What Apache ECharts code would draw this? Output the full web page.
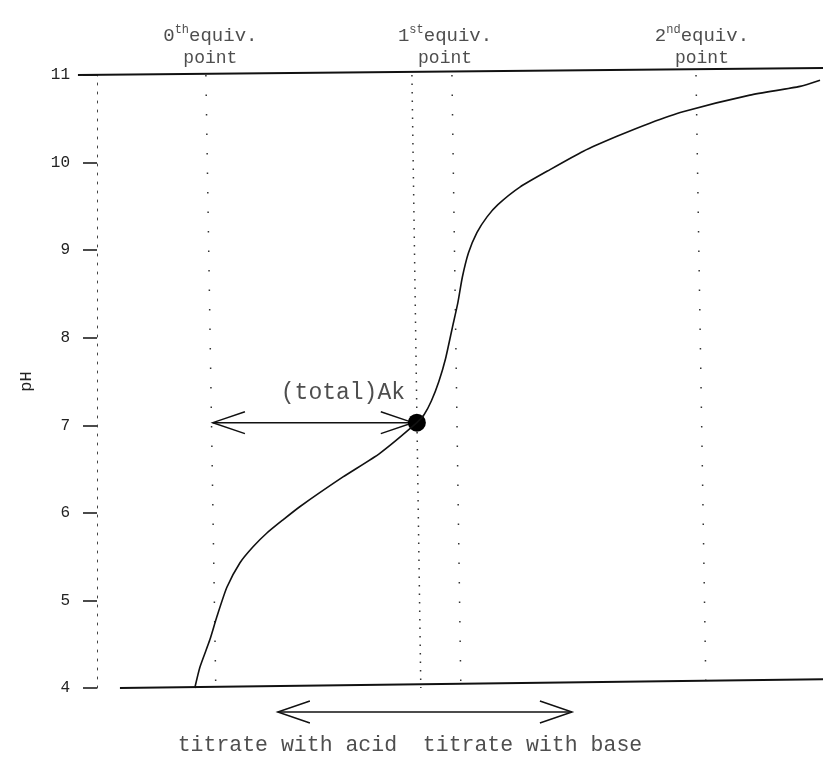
<!DOCTYPE html>
<html>
<head>
<meta charset="utf-8">
<script src="https://cdn.jsdelivr.net/npm/echarts@6/dist/echarts.min.js"></script>
<style>html,body{margin:0;padding:0;background:#fff}#c{width:823px;height:759px}</style>
</head>
<body>
<div id="c"></div>
<script>
// ---- data (axis units: x = equivalents of titrant, y = pH) ----
const yTicks = [4, 5, 6, 7, 8, 9, 10, 11];
const curveX  = [-0.053, -0.032, 0.008, 0.036, 0.077, 0.130, 0.182, 0.239, 0.304, 0.372, 0.547, 0.696, 0.846, 0.875, 0.905, 0.935, 0.962, 0.990, 1.012, 1.030, 1.055, 1.089, 1.130, 1.174, 1.263, 1.385, 1.520, 1.656, 1.789, 1.923, 2.194, 2.397, 2.478];
const curvePH = [4.00, 4.24, 4.55, 4.81, 5.15, 5.43, 5.61, 5.77, 5.92, 6.07, 6.41, 6.68, 7.03, 7.12, 7.28, 7.50, 7.76, 8.12, 8.40, 8.69, 8.97, 9.20, 9.38, 9.52, 9.72, 9.92, 10.13, 10.30, 10.45, 10.58, 10.77, 10.87, 10.94];
const equivX     = [0, 1, 2];
const equivOrd   = ['0', '1', '2'];
const equivSup   = ['th', 'st', 'nd'];
const equivLabelX = [0.01, 0.96, 2.0];
const guideTopX  = [-0.008, 0.988, 1.976];
const guideBotX  = [0.032, 1.024, 2.016];
const denseGuideX = [0.826, 0.862];
const topLineX = [-0.526, 2.49], topLinePH = [11.0, 11.08];
const botLineX = [-0.356, 2.49], botLinePH = [4.0, 4.10];
const akPoint = [0.846, 7.03];
const akText = '(total)Ak';
const akLabelAnchor = [0.798, 7.37];
const akArrowX = [0.02, 0.83], akArrowPH = 7.03;
const bottomArrowX = [0.283, 1.474], bottomArrowPH = 3.726;
const bottomText = 'titrate with acid  titrate with base';
const bottomTextAnchor = [0.818, 3.349];

// ---- style ----
const MONO = '"Liberation Mono", "DejaVu Sans Mono", monospace';
const INK = '#111';
const headDx = 0.13, headDy = 0.125;

function arrowPolylines(x1, x2, y) {
  return [
    { coords: [[x1, y], [x2, y]] },
    { coords: [[x1 + headDx, y + headDy], [x1, y], [x1 + headDx, y - headDy]] },
    { coords: [[x2 - headDx, y + headDy], [x2, y], [x2 - headDx, y - headDy]] }
  ];
}

const chart = echarts.init(document.getElementById('c'), null, { renderer: 'canvas' });
const option = {
  animation: false,
  backgroundColor: '#fff',
  grid: { left: 72, right: 0, top: 75, bottom: 71 },
  xAxis: { type: 'value', min: -0.55, max: 2.49, show: false },
  yAxis: {
    type: 'value', min: yTicks[0], max: yTicks[yTicks.length - 1], interval: 1,
    offset: -25,
    name: 'pH', nameLocation: 'middle', nameRotate: 90, nameGap: 62,
    nameTextStyle: { fontFamily: MONO, fontSize: 17, color: '#222' },
    axisLine: { show: true, onZero: false, lineStyle: { color: '#444', width: 1, type: [2, 7] } },
    axisTick: { show: true, inside: false, length: 14, lineStyle: { color: INK, width: 1.5 } },
    axisLabel: { margin: 27, fontFamily: MONO, fontSize: 16, color: '#222' },
    splitLine: { show: false }
  },
  series: [
    { // sparse dotted guides at equivalence points
      type: 'lines', coordinateSystem: 'cartesian2d', silent: true, clip: false,
      lineStyle: { color: '#333', width: 1.5, type: [1.5, 18], opacity: 1 },
      data: guideTopX.map((x, i) => ({ coords: [[x, 11], [guideBotX[i], 4]] }))
    },
    { // dense dotted guide through the point
      type: 'lines', coordinateSystem: 'cartesian2d', silent: true, clip: false,
      lineStyle: { color: '#333', width: 1.5, type: [1.5, 7], opacity: 1 },
      data: [{ coords: [[denseGuideX[0], 11], [denseGuideX[1], 4]] }]
    },
    { type: 'line', clip: false, symbol: 'none', silent: true,
      lineStyle: { color: INK, width: 2 },
      data: topLineX.map((x, i) => [x, topLinePH[i]]) },
    { type: 'line', clip: false, symbol: 'none', silent: true,
      lineStyle: { color: INK, width: 2 },
      data: botLineX.map((x, i) => [x, botLinePH[i]]) },
    { type: 'line', smooth: 0.2, symbol: 'none', clip: false,
      lineStyle: { color: INK, width: 1.6 },
      data: curveX.map((x, i) => [x, curvePH[i]]) },
    { type: 'lines', coordinateSystem: 'cartesian2d', polyline: true, clip: false, silent: true,
      lineStyle: { color: INK, width: 1.5, opacity: 1 },
      data: arrowPolylines(akArrowX[0], akArrowX[1], akArrowPH)
        .concat(arrowPolylines(bottomArrowX[0], bottomArrowX[1], bottomArrowPH)) },
    { type: 'scatter', symbol: 'circle', symbolSize: 18, clip: false,
      itemStyle: { color: '#000', opacity: 1 }, data: [akPoint] },
    { type: 'scatter', symbolSize: 0, clip: false, silent: true,
      label: { show: true, position: 'top', distance: 5, color: '#222', align: 'center',
        rich: {
          n: { fontFamily: MONO, fontSize: 19, lineHeight: 23, color: '#222' },
          s: { fontFamily: MONO, fontSize: 12, lineHeight: 12, verticalAlign: 'top', color: '#222' },
          e: { fontFamily: MONO, fontSize: 19, lineHeight: 23, color: '#222' },
          p: { fontFamily: MONO, fontSize: 18, lineHeight: 23, color: '#222' }
        } },
      data: equivLabelX.map((x, i) => ({
        value: [x, 11],
        label: { formatter: '{n|' + equivOrd[i] + '}{s|' + equivSup[i] + '}{e|equiv.}\n{p|point}' }
      }))
    },
    { type: 'scatter', symbolSize: 0, clip: false, silent: true,
      label: { show: true, position: 'left', distance: 0, fontFamily: MONO, fontSize: 23, color: '#222',
        formatter: akText },
      data: [akLabelAnchor] },
    { type: 'scatter', symbolSize: 0, clip: false, silent: true,
      label: { show: true, position: 'inside', fontFamily: MONO, fontSize: 21.5, color: '#222',
        formatter: bottomText },
      data: [bottomTextAnchor] }
  ]
};
chart.setOption(option);
</script>
</body>
</html>
